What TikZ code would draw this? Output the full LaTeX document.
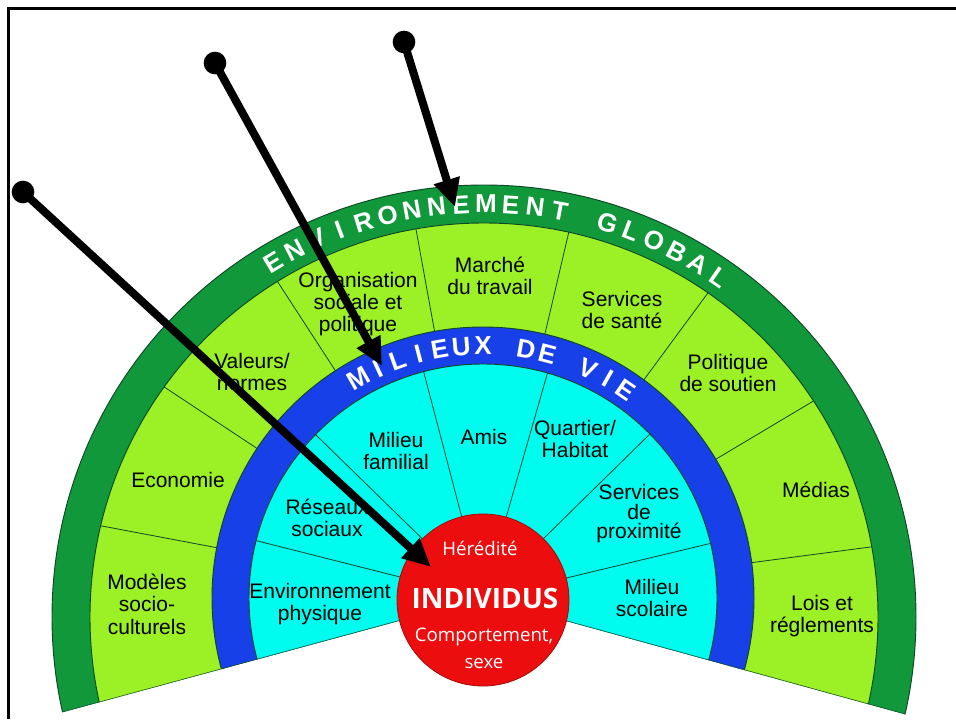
\documentclass[tikz,border=0pt]{standalone}
\usepackage{fontspec}
\setmainfont{Liberation Sans}
\newfontfamily\redfont{Open Sans}
\usetikzlibrary{arrows.meta,calc}

\definecolor{globalgreen}{RGB}{16,152,58}
\definecolor{sectorgreen}{RGB}{156,240,38}
\definecolor{vieblue}{RGB}{24,64,232}
\definecolor{viecyan}{RGB}{0,252,238}
\definecolor{indivred}{RGB}{236,14,14}
\definecolor{rimline}{RGB}{16,70,40}

\tikzset{
  sectortext/.style={align=center, text=black, inner sep=0pt,
    font=\fontsize{15.75}{16.8}\selectfont},
  bandletter/.style={text=white, inner sep=0pt,
    font=\bfseries\fontsize{19.5}{19.5}\selectfont},
  redtext/.style={text=white, inner sep=0pt, align=center},
  divider/.style={draw=rimline, line width=0.6pt},
  rim/.style={draw=rimline, line width=0.7pt},
  pointer/.style={line width=6pt, -{Triangle[length=21pt,width=19pt]}},
  startdot/.style={circle, fill=black, minimum size=17pt, inner sep=0pt},
}

\begin{document}
\begin{tikzpicture}[x=0.75pt,y=0.75pt]
	%%%%% START %%%%%
	\useasboundingbox (0,0) rectangle (956,719);
	
	\coordinate (C1) at (484,102); % outer band
	\coordinate (C2) at (483,121); % inner rings
	
	\draw[line width=2.25pt] (8,0) -- (8,710) -- (956,710);
	
	\begin{scope}
		\clip (483,121) -- (-192.5,-62.5) -- (-192.5,900) -- (1157.8,900) -- (1157.8,-64.9) -- cycle;
		
		\fill[globalgreen] (C1) circle (432);
		\draw[rim] (C1) circle (432);
		\fill[sectorgreen] (C1) circle (394);
		\draw[rim] (C1) circle (394);
		
		\begin{scope}
			\clip (C1) circle (394);
			\foreach \a in {7.5,30.8,53.6,76.8,100.3,123,146.5,169.3}
				\draw[divider] (C2) -- ++(\a:420);
		\end{scope}
		
		\fill[vieblue] (C2) circle (271);
		\draw[rim] (C2) circle (271);
		\fill[viecyan] (C2) circle (234);
		\draw[rim] (C2) circle (234);
		\foreach \a in {13.5,44.5,74,104.7,135.7,165.8}
			\draw[divider] (C2) -- ++(\a:234);
		
		\begin{scope}
			\clip (C1) circle (432);
			\draw[rim] (C2) -- ++(195.2:500);
			\draw[rim] (C2) -- ++(-15.4:500);
		\end{scope}
	\end{scope}
	
	% band letters
	\foreach \ch [count=\i from 0, evaluate=\i as \a using 120.7-3.44*\i] in {E,N,V,I,R,O,N,N,E,M,E,N,T,,G,L,O,B,A,L}
		\node[bandletter, rotate=\a-90] (env\i) at ([shift={(\a:413)}]C1) {\ch};
	\foreach \ch [count=\i from 0, evaluate=\i as \a using 119.6-4.93*\i] in {M,I,L,I,E,U,X,,D,E,,V,I,E}
		\node[bandletter, rotate=\a-90] (vie\i) at ([shift={(\a:252.5)}]C2) {\ch};
	
	% outer sectors
	\node[sectortext] (modeles) at (147,115) {Modèles\\socio-\\culturels};
	\node[sectortext] (economie) at (178,239) {Economie};
	\node[sectortext] (valeurs) at (252,347) {Valeurs/\\normes};
	\node[sectortext] (organisation) at (358,415) {Organisation\\sociale et\\politique};
	\node[sectortext] (marche) at (490,443) {Marché\\du travail};
	\node[sectortext] (sante) at (622,409) {Services\\de santé};
	\node[sectortext] (soutien) at (728,346) {Politique\\de soutien};
	\node[sectortext] (medias) at (816,229) {Médias};
	\node[sectortext] (lois) at (822,103) {Lois et\\réglements};
	
	% inner sectors
	\node[sectortext] (physique) at (320,115) {Environnement\\physique};
	\node[sectortext] (reseaux) at (327,201) {Réseaux\\sociaux};
	\node[sectortext] (familial) at (396,268) {Milieu\\familial};
	\node[sectortext] (amis) at (484,282) {Amis};
	\node[sectortext] (quartier) at (575,280) {Quartier/\\Habitat};
	\node[sectortext, font=\fontsize{15.75}{14.6}\selectfont] (proximite) at (639,205) {Services\\de\\proximité};
	\node[sectortext] (scolaire) at (652,121) {Milieu\\scolaire};
	
	% individu
	\node[circle, minimum size=129pt, inner sep=0pt, fill=indivred, draw=indivred!70!black, line width=0.6pt] (indiv) at (483,119) {};
	\node[redtext, font=\redfont\fontsize{14}{14}\selectfont] (heredite) at (480,171) {Hérédité};
	\node[redtext, font=\redfont\fontsize{21}{21}\selectfont\bfseries] (individus) at (485,121) {INDIVIDUS};
	\node[redtext, font=\redfont\fontsize{14}{20}\selectfont] (comportement) at (484,71) {Comportement,\\sexe};
	
	% pointers
	\node[startdot] (dotA) at (23,527) {};
	\node[startdot] (dotB) at (215,656) {};
	\node[startdot] (dotC) at (404,677) {};
	\coordinate (tipA) at (431,152);
	\coordinate (tipB) at (382,353);
	\coordinate (tipC) at (455,512);
	\draw[pointer] (dotA.center) -- (tipA);
	\draw[pointer] (dotB.center) -- (tipB);
	\draw[pointer] (dotC.center) -- (tipC);
	
	%%%%% END %%%%%
\end{tikzpicture}
\end{document}
